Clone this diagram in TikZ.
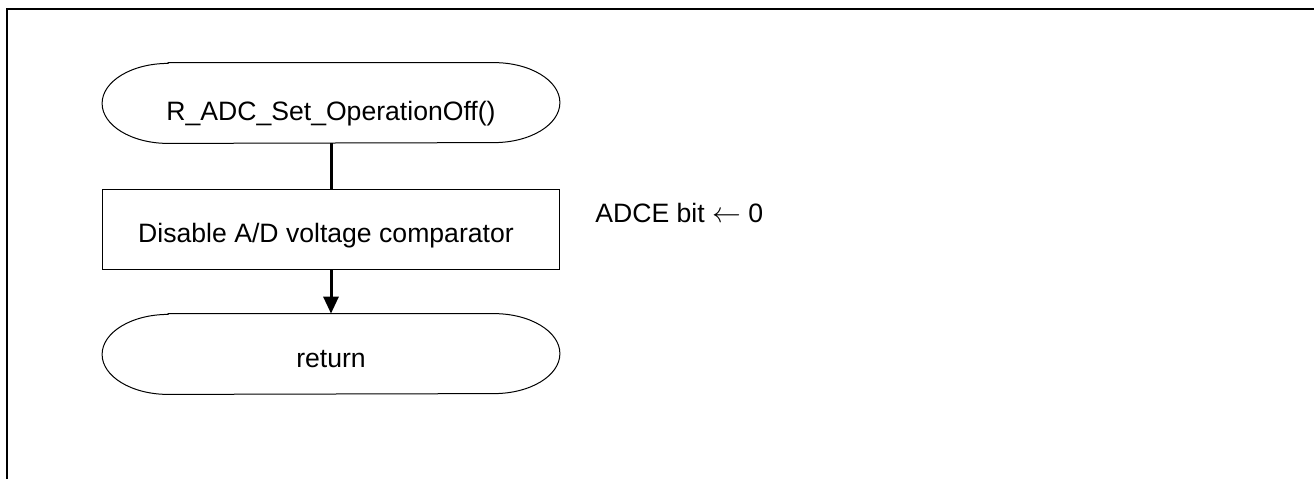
\documentclass[tikz,border=0pt]{standalone}
\usepackage{fontspec}
\setmainfont{Liberation Sans}
\usetikzlibrary{arrows.meta}

% outline of a terminal: straight top and bottom, half ellipses at the ends
\newcommand{\termoutline}[1]{%
  \draw[outline] ([xshift=33pt]#1.north west) -- ([xshift=-33pt]#1.north east)
    arc[start angle=90,end angle=-90,x radius=33pt,y radius=20pt]
    -- ([xshift=33pt]#1.south west)
    arc[start angle=270,end angle=90,x radius=33pt,y radius=20pt] -- cycle;}

\begin{document}
\begin{tikzpicture}[x=0.5pt,y=-0.5pt,
    font=\fontsize{13.3}{16}\selectfont,
    outline/.style={line width=0.5pt},
    frame/.style={line width=1pt},
    termshape/.style={draw=none,minimum width=228.5pt,minimum height=40pt,inner sep=0pt},
    procbox/.style={draw,line width=0.5pt,minimum width=228.5pt,minimum height=40pt,inner sep=0pt},
    flow/.style={line width=1.5pt}]
  \useasboundingbox (0,0) rectangle (1314,479);
  \draw[frame] (7,479) -- (7,9) -- (1314,9);

  \node[termshape] (start) at (331,103) {};
  \termoutline{start}
  \node[anchor=base] (starttext) at (331,120) {R\_ADC\_Set\_OperationOff()};

  \node[procbox] (disable) at (331,229) {};
  \node[anchor=base] (disabletext) at (326,242) {Disable A/D voltage comparator};

  \node[termshape] (ret) at (331,354) {};
  \termoutline{ret}
  \node[anchor=base] (rettext) at (331,367) {return};

  \node[anchor=base west,inner sep=0pt] (adce) at (595,222) {ADCE bit $\leftarrow$ 0};

  \draw[flow] (start) -- (disable);
  \draw[flow,-{Triangle[length=8.5pt,width=7.5pt]}] (disable) -- (ret);
\end{tikzpicture}
\end{document}
